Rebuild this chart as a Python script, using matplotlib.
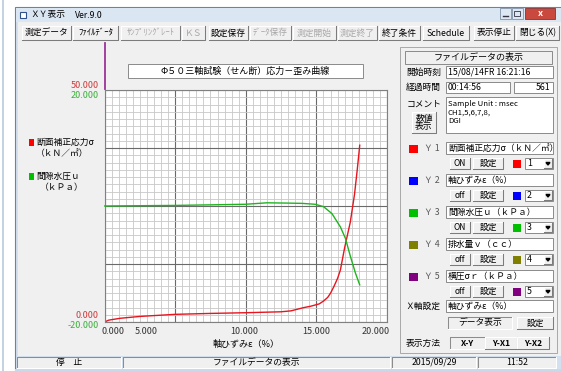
import numpy as np
import matplotlib
matplotlib.use('Agg')
import matplotlib.pyplot as plt
from matplotlib.patches import Rectangle, Polygon
from matplotlib.ticker import MultipleLocator

plt.rcParams['font.family'] = ['Noto Sans CJK JP', 'DejaVu Sans']

# 軸ひずみ(%) vs 断面補正応力 (kN/m2)
strain_sigma = [0.0, 0.3, 1.1, 2.5, 5.0, 7.5, 10.0, 12.5, 13.2, 14.1, 14.6, 15.2,
                15.5, 15.8, 16.0, 16.25, 16.5, 16.7, 17.0, 17.4, 17.7, 17.9, 18.07]
sigma = [0.0, 0.4, 0.8, 1.2, 1.65, 1.85, 2.0, 2.2, 2.4, 3.1, 3.4, 3.9,
         4.5, 5.3, 6.2, 7.7, 9.4, 11.2, 16.0, 21.5, 27.5, 33.0, 38.1]

# 軸ひずみ(%) vs 間隙水圧 (kPa)
strain_u = [0.0, 5.0, 10.0, 11.5, 13.0, 14.0, 14.9, 15.5, 16.1, 16.7, 17.06, 17.41, 17.77, 18.07]
pore_u = [0.0, 0.1, 0.3, 0.55, 0.5, 0.45, 0.3, -0.1, -1.3, -3.6, -5.6, -8.7, -11.6, -13.6]

x_ticks = [0, 5, 10, 15, 20]
sigma_lim = [0, 50]
u_lim = [-20, 20]

toolbar = ["測定データ", "ﾌｧｲﾙﾃﾞｰﾀ", "ｻﾝﾌﾟﾘﾝｸﾞﾚｰﾄ", "ＫＳ", "設定保存", "ﾃﾞｰﾀ保存",
           "測定開始", "測定終了", "終了条件", "Schedule", "表示停止", "閉じる(X)"]
toolbar_on = [True, True, False, False, True, False, False, False, True, True, True, True]

y_names = ["断面補正応力σ（ｋＮ／㎡）", "軸ひずみε（%）", "間隙水圧ｕ（ｋＰａ）",
           "排水量ｖ（ｃｃ）", "横圧σｒ（ｋＰａ）"]
y_colors = ['#ff0000', '#0000ff', '#00c000', '#808000', '#800080']
y_state = ["ON", "off", "ON", "off", "off"]

W, H = 561, 371
FACE = '#f0f0f0'

fig = plt.figure(figsize=(W / 100, H / 100), dpi=100)
fig.patch.set_facecolor(FACE)
ov = fig.add_axes([0, 0, 1, 1])
ov.set_xlim(0, W)
ov.set_ylim(H, 0)
ov.axis('off')


def box(x0, y0, x1, y1, fc, ec='none', lw=0.7, z=1):
    ov.add_patch(Rectangle((x0, y0), x1 - x0, y1 - y0, facecolor=fc,
                           edgecolor=ec, linewidth=lw, zorder=z))


def edge(x0, y0, x1, y1, raised=True):
    hi, lo = ('white', '#7c7c7c') if raised else ('#8c8c8c', 'white')
    ov.plot([x0, x0, x1], [y1, y0, y0], color=hi, lw=0.75, zorder=2)
    ov.plot([x0, x1, x1], [y1, y1, y0], color=lo, lw=0.75, zorder=2)


def label(x, y, s, ha='left', color='black', fs=6.3, **kw):
    ov.text(x, y, s, ha=ha, va='center', color=color, fontsize=fs, zorder=4, **kw)


def button(x0, y0, x1, y1, s, color='black', raised=True, fs=6.3, **kw):
    box(x0, y0, x1, y1, FACE)
    edge(x0, y0, x1, y1, raised)
    label((x0 + x1) / 2, (y0 + y1) / 2, s, ha='center', color=color, fs=fs, **kw)


def field(x0, y0, x1, y1, s='', ha='left', fc='white', fs=6.3):
    box(x0, y0, x1, y1, fc, ec='#8a8a8a')
    if s:
        tx = {'left': x0 + 2, 'right': x1 - 3, 'center': (x0 + x1) / 2}[ha]
        label(tx, (y0 + y1) / 2, s, ha=ha, fs=fs)


# ---- window chrome ----
box(0, 0, 15, H, 'white')
box(0, 0, W, 7, 'white')
ov.plot([3.5, 3.5], [0, H], color='#b9c9dc', lw=1.2)
box(15, 7, W + 2, H + 2, '#d3e0ef', ec='#6f8299', lw=0.8)
box(16, 8, W, 22, '#dbe6f3')
box(20, 12, 26, 18, '#ffffff', ec='#30508a', lw=0.8, z=2)
label(30, 15, "ＸＹ表示", fs=6.3)
label(75, 15, "Ver.9.0", fs=6.3)
box(500, 8, 511, 19, '#dde7f3', ec='#8093aa', lw=0.6, z=2)
ov.plot([503, 508], [16, 16], color='#334', lw=1.0, zorder=3)
box(512, 8, 523, 19, '#dde7f3', ec='#8093aa', lw=0.6, z=2)
box(514.5, 11, 520.5, 16, 'none', ec='#334', lw=0.6, z=3)
box(525, 8, 555, 19, '#c9493e', ec='#8a3030', lw=0.6, z=2)
label(540, 13.5, "x", ha='center', color='white', fs=6.5, fontweight='bold')

box(18, 22, W, 356, FACE)

# toolbar
tb_x = [(22, 71), (73, 118), (121, 180), (182, 205), (209, 248), (250, 291),
        (293, 336), (338, 377), (379, 420), (423, 469), (474, 514), (516, 559)]
for (x0, x1), s, on in zip(tb_x, toolbar, toolbar_on):
    button(x0, 26, x1, 40, s, color='black' if on else '#a8a8a8', fs=6.3)

# chart title
field(128, 64, 363, 78, "Φ５０三軸試験（せん断）応力－歪み曲線", ha='center', fs=6.5)
ov.plot([105, 105], [43, 89], color='#993399', lw=1.3)

# left legend
box(29, 139, 34, 146, y_colors[0], z=2)
label(36, 142.5, "断面補正応力σ", fs=6.3)
label(62, 154, "（ｋＮ／㎡）", ha='center', fs=6.3)
box(29, 173, 34, 180, y_colors[2], z=2)
label(36, 176.5, "間隙水圧ｕ", fs=6.3)
label(62, 188, "（ｋＰａ）", ha='center', fs=6.3)

# ---- plot ----
ax = fig.add_axes([104.5 / W, 1 - 322 / H, 282.5 / W, 232 / H])
ax.set_facecolor('white')
ax.plot(strain_sigma, sigma, color='#e8141e', lw=1.0)
ax.set_xlim(x_ticks[0], x_ticks[-1])
ax.set_ylim(sigma_lim)
ax.set_xticks(x_ticks)
ax.set_xticklabels([])
ax.xaxis.set_minor_locator(MultipleLocator(0.5))
ax.set_yticks(np.linspace(sigma_lim[0], sigma_lim[1], 5))
ax.yaxis.set_minor_locator(MultipleLocator((sigma_lim[1] - sigma_lim[0]) / 32))
ax.set_yticklabels([])
ax.tick_params(which='both', length=0)
ax.grid(which='minor', color='#c8c8c8', lw=0.6)
ax.grid(which='major', color='#6a6a6a', lw=0.8)
for sp in ax.spines.values():
    sp.set_color('#808080')
    sp.set_linewidth(0.8)

# x labels: the application places them a little irregularly
for v, ha, dx in zip(x_ticks, ['left', 'center', 'center', 'center', 'right'],
                     [-2, -21, -1, 0, 2]):
    ax.annotate("%.3f" % v, (v, 0), xycoords=('data', 'axes fraction'), xytext=(dx, -7),
                textcoords='offset points', ha=ha, va='center', fontsize=6.5, color='#333333')
ax.annotate("軸ひずみε（%）", (0.5, 0), xycoords='axes fraction', xytext=(0, -16.5),
            textcoords='offset points', ha='center', va='center', fontsize=6.5)

ax2 = ax.twinx()
ax2.plot(strain_u, pore_u, color='#1fb41f', lw=1.0)
ax2.set_ylim(u_lim)
ax2.set_yticks([])
for sp in ax2.spines.values():
    sp.set_visible(False)

for y, dy, val, col in [(1, 3.6, sigma_lim[1], '#d03838'), (1, -3.6, u_lim[1], '#38b038'),
                        (0, 5.0, sigma_lim[0], '#d03838'), (0, -2.2, u_lim[0], '#38b038')]:
    ax.annotate("%.3f" % val, (0, y), xycoords='axes fraction', xytext=(-4, dy),
                textcoords='offset points', ha='right', va='center', fontsize=6.5, color=col)

# ---- right panel ----
box(400, 47, 557, 353, 'none', ec='#a8a8a8', lw=0.7)
box(401, 48, 558, 354, 'none', ec='white', lw=0.5, z=0.9)
field(405, 51, 552, 64, "ファイルデータの表示", ha='center', fc=FACE, fs=6.5)
label(406, 72, "開始時刻")
field(446, 66, 553, 78, "15/08/14FR 16:21:16")
label(406, 87.5, "経過時間")
field(446, 82, 510, 93, "00:14:56")
field(514, 82, 553, 93, "561", ha='right')
label(407, 104, "コメント")
field(446, 97, 553, 133)
for i, s in enumerate(["Sample Unit : msec", "CH1,5,6,7,8,", "DGI"]):
    label(448, 104 + 8.5 * i, s, fs=5.6)
button(412, 112, 436, 133, "", fs=6.3)
label(424, 118, "数値", ha='center')
label(424, 127, "表示", ha='center')

for i, (name, col, st) in enumerate(zip(y_names, y_colors, y_state)):
    y0 = 142 + 32 * i
    box(409, y0 + 2.5, 418, y0 + 11, col, z=2)
    label(424, y0 + 6.5, "Ｙ %d" % (i + 1), color='#555555')
    field(446, y0, 553, y0 + 12, name)
    c0 = y0 + 16
    button(450, c0, 470, c0 + 11, st, fs=6)
    button(473, c0, 503, c0 + 11, "設定")
    box(513, c0 + 1.5, 521, c0 + 9.5, col, z=2)
    field(525, c0, 553, c0 + 11, str(i + 1))
    button(544, c0 + 1, 552, c0 + 10, "", fs=5)
    ov.add_patch(Polygon([[546, c0 + 4.5], [550, c0 + 4.5], [548, c0 + 7]], closed=True,
                         color='black', zorder=5))

label(405, 306, "Ｘ軸設定")
field(446, 300, 553, 312, "軸ひずみε（%）")
box(448, 317, 512, 329, FACE)
edge(448, 317, 512, 329, raised=False)
label(480, 323, "データ表示", ha='center')
button(517, 317, 553, 329, "設定")
label(406, 343, "表示方法")
button(450, 337, 485, 349, "X-Y", raised=False, fs=6, fontweight='bold')
button(485, 337, 517, 349, "Y-X1", fs=6, fontweight='bold')
button(517, 337, 549, 349, "Y-X2", fs=6, fontweight='bold')

# ---- status bar ----
for (x0, x1), s in zip([(17, 121), (123, 390), (392, 476), (478, 556)],
                       ["停　止", "ファイルデータの表示", "2015/09/29", "11:52"]):
    box(x0, 357, x1, 368, FACE)
    edge(x0, 357, x1, 368, raised=False)
    label((x0 + x1) / 2, 362.5, s, ha='center', fs=6.3)
box(15, 369, W, H, '#c9d9ec')

fig.savefig('out.png', dpi=100, facecolor=fig.get_facecolor())
